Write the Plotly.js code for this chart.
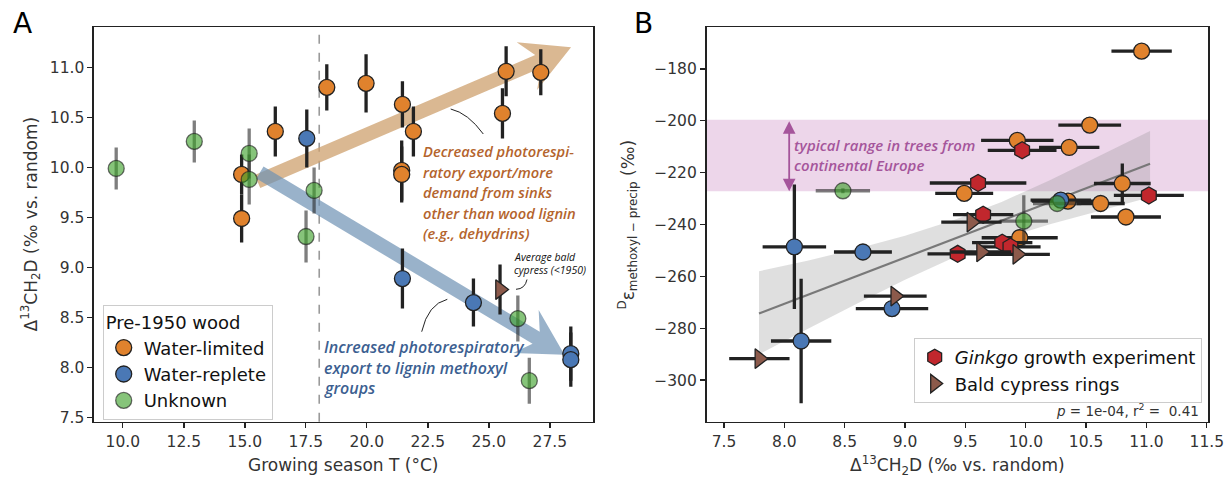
<!DOCTYPE html>
<html><head><meta charset="utf-8">
<script src="https://cdn.plot.ly/plotly-3.0.1.min.js"></script>
<style>html,body{margin:0;padding:0;background:#fff}</style>
</head><body><div id="chart" style="width:1225px;height:477px"></div>
<script>
const W = 1225, H = 477;

// ---------- Panel A data (growing season T vs Δ13CH2D) ----------
const aLimitedT   = [14.87, 14.87, 16.25, 18.36, 19.97, 21.46, 21.91, 21.43, 21.43, 25.56, 25.71, 27.13];
const aLimitedD   = [9.93, 9.49, 10.36, 10.80, 10.84, 10.63, 10.36, 9.97, 9.93, 10.54, 10.96, 10.95];
const aLimitedErr = [0.20, 0.24, 0.25, 0.23, 0.29, 0.23, 0.25, 0.30, 0.28, 0.25, 0.25, 0.23];
const aRepleteT   = [17.54, 21.46, 24.37, 28.36, 28.36];
const aRepleteD   = [10.29, 8.89, 8.65, 8.14, 8.08];
const aRepleteErr = [0.29, 0.30, 0.24, 0.27, 0.27];
const aUnknownT   = [9.73, 12.93, 15.18, 15.18, 17.84, 17.51, 26.19, 26.66];
const aUnknownD   = [9.99, 10.26, 10.14, 9.88, 9.77, 9.31, 8.49, 7.87];
const aUnknownErr = [0.21, 0.21, 0.25, 0.25, 0.23, 0.26, 0.23, 0.23];
const aCypressT   = [25.46];
const aCypressD   = [8.78];
const aCypressErr = [0.25];
const aThresholdT = 18.05;

// ---------- Panel B data (Δ13CH2D vs Dε methoxyl-precip) ----------
const bLimitedX    = [10.96, 10.53, 9.93, 10.36, 10.80, 9.49, 10.35, 10.62, 10.83, 9.95];
const bLimitedY    = [-173.2, -201.7, -207.6, -210.3, -224.2, -228.0, -231.0, -231.9, -237.1, -245.1];
const bLimitedXErr = [0.25, 0.26, 0.30, 0.25, 0.235, 0.24, 0.30, 0.20, 0.29, 0.315];
const bLimitedYErr = [0, 0, 0, 0, 7.7, 0, 0, 0, 0, 0];
const bRepleteX    = [10.29, 8.083, 8.651, 8.892, 8.139];
const bRepleteY    = [-230.6, -248.6, -250.6, -272.4, -284.9];
const bRepleteXErr = [0.25, 0.263, 0.24, 0.30, 0.25];
const bRepleteYErr = [0, 24, 0, 0, 24];
const bUnknownX    = [8.485, 10.26, 9.984];
const bUnknownY    = [-227.0, -231.9, -238.7];
const bUnknownXErr = [0.225, 0.20, 0.20];
const bUnknownYErr = [1, 0, 10];
const bGinkgoX     = [9.97, 9.605, 11.02, 9.647, 9.805, 9.873, 9.436];
const bGinkgoY     = [-211.4, -224.0, -228.8, -236.2, -247.0, -248.6, -251.3];
const bGinkgoXErr  = [0.285, 0.40, 0.29, 0.25, 0.25, 0.25, 0.25];
const bCypressX    = [9.55, 9.63, 9.93, 8.919, 7.793];
const bCypressY    = [-239.1, -250.6, -251.5, -267.6, -291.7];
const bCypressXErr = [0.25, 0.25, 0.27, 0.26, 0.25];
const fitX      = [7.79, 8.2, 8.6, 9.0, 9.4, 9.8, 10.2, 10.6, 11.03];
const fitUpper  = [-258.0, -253.9, -249.3, -244.3, -238.4, -231.3, -222.9, -213.7, -204.0];
const fitLower  = [-290.0, -280.1, -270.5, -261.3, -252.8, -245.7, -239.9, -234.9, -229.5];
const fitLineX  = [7.79, 11.03];
const fitLineY  = [-274.3, -216.6];
const euroRange = [-227.2, -199.6];
const statsText = '<i>p</i> = 1e-04, r<sup>2</sup> =  0.41';

// ---------- labels ----------
const legendTitleA = 'Pre-1950 wood';
const seriesNames = ['Water-limited', 'Water-replete', 'Unknown', '<i>Ginkgo</i> growth experiment', 'Bald cypress rings'];
const textDecreased = ['Decreased photorespi-', 'ratory export/more', 'demand from sinks', 'other than wood lignin', '(e.g., dehydrins)'];
const textIncreased = ['Increased photorespiratory', 'export to lignin methoxyl', 'groups'];
const textCypress = ['Average bald', 'cypress (&lt;1950)'];
const textEurope = ['typical range in trees from', 'continental Europe'];

// ---------- styling ----------
const C = {orange:'#e0822d', blue:'#4a78b5', green:'rgba(60,160,40,0.62)', red:'#c1272d', brown:'#8c5a4b',
           edge:'#222222', err:'#222222', errGreen:'rgba(40,40,40,0.6)'};
const FONT = 'DejaVu Sans';
const NOTE_FONT = '"Open Sans", "Liberation Sans", sans-serif';

// plot areas in pixels
const A = {xr:[8.82, 29.27], yr:[7.46, 11.40], px:[94, 593], py:[27.3, 421.7]};
const B = {xr:[7.355, 11.51], yr:[-316, -164], px:[706.5, 1208], py:[27.3, 421.7]};
function toPx(ax, x, y){
  return [ax.px[0] + (x-ax.xr[0])/(ax.xr[1]-ax.xr[0])*(ax.px[1]-ax.px[0]),
          ax.py[1] - (y-ax.yr[0])/(ax.yr[1]-ax.yr[0])*(ax.py[1]-ax.py[0])];
}
function toData(ax, px, py){
  return [ax.xr[0] + (px-ax.px[0])/(ax.px[1]-ax.px[0])*(ax.xr[1]-ax.xr[0]),
          ax.yr[0] + (ax.py[1]-py)/(ax.py[1]-ax.py[0])*(ax.yr[1]-ax.yr[0])];
}
function fancyArrow(ax, tail, tip, w, L, Wd, neck){
  const p0 = toPx(ax, tail[0], tail[1]), p1 = toPx(ax, tip[0], tip[1]);
  const dx = p1[0]-p0[0], dy = p1[1]-p0[1], len = Math.hypot(dx, dy);
  const u = [dx/len, dy/len], n = [-u[1], u[0]];
  const base = [p1[0]-u[0]*L, p1[1]-u[1]*L];
  const nk = [base[0]+u[0]*neck, base[1]+u[1]*neck];
  const pts = [
    [p0[0]+n[0]*w/2, p0[1]+n[1]*w/2], [nk[0]+n[0]*w/2, nk[1]+n[1]*w/2],
    [base[0]+n[0]*Wd/2, base[1]+n[1]*Wd/2], p1,
    [base[0]-n[0]*Wd/2, base[1]-n[1]*Wd/2], [nk[0]-n[0]*w/2, nk[1]-n[1]*w/2],
    [p0[0]-n[0]*w/2, p0[1]-n[1]*w/2]];
  return 'M' + pts.map(p => toData(ax, p[0], p[1]).join(',')).join(' L') + ' Z';
}
function curve(ax, a, c, b){
  const d = [a, c, b].map(p => toData(ax, p[0], p[1]).join(','));
  return 'M' + d[0] + ' Q' + d[1] + ' ' + d[2];
}
const px2paper = (px, py) => [px/W, 1 - py/H];

// ---------- traces ----------
function scat(xa, ya, x, y, name, color, symbol, size, opts){
  opts = opts || {};
  const t = {type:'scatter', mode:'markers', x:x, y:y, name:name, xaxis:xa, yaxis:ya,
    marker:{color:color, symbol:symbol, size:size, line:{color:opts.edge || C.edge, width:1.3}},
    showlegend: !!opts.legend, legend: opts.legend || 'legend', hoverinfo:'skip'};
  if (opts.ey) t.error_y = {type:'data', array:opts.ey, visible:true, color:opts.errc || C.err, thickness:3.3, width:0};
  if (opts.ex) t.error_x = {type:'data', array:opts.ex, visible:true, color:opts.errc || C.err, thickness:3.3, width:0};
  return t;
}
const traces = [
  scat('x','y', aLimitedT, aLimitedD, seriesNames[0], C.orange, 'circle', 16, {ey:aLimitedErr, legend:'legend'}),
  scat('x','y', aRepleteT, aRepleteD, seriesNames[1], C.blue, 'circle', 16, {ey:aRepleteErr, legend:'legend'}),
  scat('x','y', aUnknownT, aUnknownD, seriesNames[2], C.green, 'circle', 16, {ey:aUnknownErr, legend:'legend', errc:C.errGreen, edge:'rgba(34,34,34,0.65)'}),
  scat('x','y', aCypressT, aCypressD, 'avg', C.brown, 'triangle-right', 17, {ey:aCypressErr}),
  // panel B
  {type:'scatter', mode:'lines', x: fitX.concat(fitX.slice().reverse()), y: fitUpper.concat(fitLower.slice().reverse()),
   fill:'toself', fillcolor:'rgba(140,140,140,0.28)', line:{width:0}, xaxis:'x2', yaxis:'y2', showlegend:false, hoverinfo:'skip'},
  {type:'scatter', mode:'lines', x: fitLineX, y: fitLineY, line:{color:'rgba(115,115,115,0.95)', width:2.2},
   xaxis:'x2', yaxis:'y2', showlegend:false, hoverinfo:'skip'},
  scat('x2','y2', bLimitedX, bLimitedY, 'wl', C.orange, 'circle', 16, {ex:bLimitedXErr, ey:bLimitedYErr}),
  scat('x2','y2', bRepleteX, bRepleteY, 'wr', C.blue, 'circle', 16, {ex:bRepleteXErr, ey:bRepleteYErr}),
  scat('x2','y2', bUnknownX, bUnknownY, 'un', C.green, 'circle', 16, {ex:bUnknownXErr, ey:bUnknownYErr, errc:C.errGreen, edge:'rgba(34,34,34,0.65)'}),
  scat('x2','y2', bGinkgoX, bGinkgoY, seriesNames[3], C.red, 'hexagon', 17, {ex:bGinkgoXErr, legend:'legend2'}),
  scat('x2','y2', bCypressX, bCypressY, seriesNames[4], C.brown, 'triangle-right', 17, {ex:bCypressXErr, legend:'legend2'})
];

// ---------- shapes ----------
const shapes = [
  {type:'line', xref:'x', yref:'y domain', x0:aThresholdT, x1:aThresholdT, y0:0, y1:1,
   line:{color:'#9a9a9a', width:1.6, dash:'dash'}, layer:'below'},
  {type:'path', xref:'x', yref:'y', layer:'below', fillcolor:'rgba(205,160,110,0.75)', line:{width:0},
   path: fancyArrow(A, [15.52, 9.86], [28.37, 11.20], 14, 48, 52, 12)},
  {type:'path', xref:'x', yref:'y', layer:'below', fillcolor:'rgba(110,145,180,0.70)', line:{width:0},
   path: fancyArrow(A, [15.62, 9.95], [28.10, 8.13], 14, 45, 50, 12)},
  {type:'path', xref:'x', yref:'y', line:{color:'#222', width:1}, path: curve(A, [483.3,134], [468,113], [450.7,109])},
  {type:'path', xref:'x', yref:'y', line:{color:'#222', width:1}, path: curve(A, [421.7,331.7], [428,304], [447.3,299.3])},
  {type:'path', xref:'x', yref:'y', line:{color:'#222', width:1}, path: curve(A, [516,289.3], [525,289], [527,279.5])},
  {type:'rect', xref:'x2 domain', yref:'y2', x0:0, x1:1, y0:euroRange[0], y1:euroRange[1],
   fillcolor:'rgba(195,120,185,0.30)', line:{width:0}, layer:'below'}
];

// ---------- annotations ----------
const ann = [];
function textLines(lines, px, pys, font){
  lines.forEach((s, i) => {
    const p = px2paper(px, pys[i]);
    ann.push({xref:'paper', yref:'paper', x:p[0], y:p[1], xanchor:'left', yanchor:'middle', showarrow:false, text:s, font:font});
  });
}
textLines(textDecreased, 420.5, [150.7, 171.7, 192.3, 212.7, 233.3], {family:NOTE_FONT, size:14.7, color:'#b4642d', style:'italic', weight:600});
textLines(textIncreased, 321.5, [346.7, 367.7, 388.3], {family:NOTE_FONT, size:16, color:'#3c5f91', style:'italic', weight:600});
textLines(textCypress, 511.5, [257.2, 269.6], {family:NOTE_FONT, size:10.5, color:'#111', style:'italic', weight:500});
textLines(textEurope, 792, [145, 165], {family:NOTE_FONT, size:15, color:'#a5559b', style:'italic', weight:600});
function label(text, px, py, size, angle, opts){
  const p = px2paper(px, py);
  ann.push(Object.assign({xref:'paper', yref:'paper', x:p[0], y:p[1], xanchor:'center', yanchor:'middle', showarrow:false,
    text:text, textangle:angle || 0, font:{family:FONT, size:size, color:'#333'}}, opts || {}));
}
label('A', 22, 24, 28, 0, {font:{family:FONT, size:28, color:'#000'}});
label('B', 643, 24, 28, 0, {font:{family:FONT, size:28, color:'#000'}});
label('Growing season T (°C)', 343.5, 465, 17);
label('Δ<sup>13</sup>CH<sub>2</sub>D (‰ vs. random)', 31, 224.5, 17, -90);
label('Δ<sup>13</sup>CH<sub>2</sub>D (‰ vs. random)', 957, 465, 17);
label('<sup>D</sup>ε<sub>methoxyl − precip</sub> (‰)', 628, 224.5, 17, -90);
label(statsText, 1201, 410, 13.5, 0, {xanchor:'right'});
ann.push({xref:'x2', yref:'y2', axref:'x2', ayref:'y2', x:8.04, y:euroRange[0], ax:8.04, ay:euroRange[1], text:'',
  showarrow:true, arrowside:'end+start', arrowhead:2, startarrowhead:2, arrowsize:1.4, startarrowsize:1.4, arrowwidth:1.8, arrowcolor:'#a5559b', standoff:0, startstandoff:0});

// ---------- axes ----------
const yDom = [1 - 421.7/H, 1 - 27.3/H];
function axis(dom, range, tickvals, fmt){
  return {domain:dom, range:range, tickmode:'array', tickvals:tickvals, tickformat:fmt,
    showgrid:false, zeroline:false, showline:true, mirror:true, linecolor:'#222', linewidth:1.6,
    ticks:'outside', ticklen:5, tickwidth:1.4, tickcolor:'#222',
    tickfont:{family:FONT, size:15.5, color:'#333'}, fixedrange:true};
}
const layout = {
  width:W, height:H, margin:{l:0, r:0, t:0, b:0}, paper_bgcolor:'#fff', plot_bgcolor:'#fff',
  font:{family:FONT, color:'#333'},
  xaxis: axis([A.px[0]/W, A.px[1]/W], A.xr, [10, 12.5, 15, 17.5, 20, 22.5, 25, 27.5], '.1f'),
  yaxis: axis(yDom, A.yr, [7.5, 8, 8.5, 9, 9.5, 10, 10.5, 11], '.1f'),
  xaxis2: axis([B.px[0]/W, B.px[1]/W], B.xr, [7.5, 8, 8.5, 9, 9.5, 10, 10.5, 11, 11.5], '.1f'),
  yaxis2: axis(yDom, B.yr, [-300, -280, -260, -240, -220, -200, -180], 'd'),
  shapes: shapes, annotations: ann,
  legend: {x:102.7/W, y:1-305/H, xanchor:'left', yanchor:'top', bgcolor:'rgba(255,255,255,0.85)',
    bordercolor:'#cccccc', borderwidth:1, font:{family:FONT, size:18, color:'#111'},
    title:{text:legendTitleA, font:{family:FONT, size:18, color:'#111'}}, itemsizing:'trace'},
  legend2: {x:1201.7/W, y:1-338/H, xanchor:'right', yanchor:'top', bgcolor:'rgba(255,255,255,0.85)',
    bordercolor:'#cccccc', borderwidth:1, font:{family:FONT, size:18, color:'#111'}, itemsizing:'trace'}
};
layout.xaxis2.anchor = 'y2'; layout.yaxis2.anchor = 'x2';
layout.xaxis.anchor = 'y'; layout.yaxis.anchor = 'x';
Plotly.newPlot('chart', traces, layout, {staticPlot:true, displayModeBar:false});
</script></body></html>
